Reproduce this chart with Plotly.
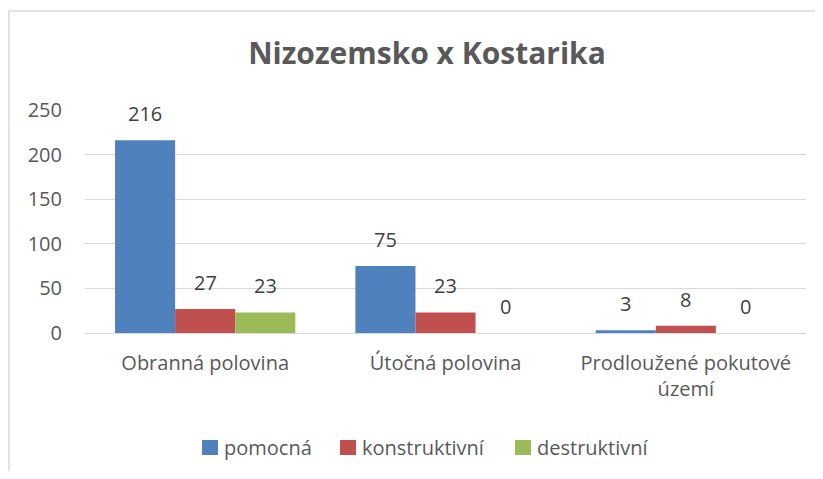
import plotly.graph_objects as go

categories = ["Obranná polovina", "Útočná polovina", "Prodloužené pokutové<br>území"]
series_names = ["pomocná", "konstruktivní", "destruktivní"]
pomocna = [216, 75, 3]
konstruktivni = [27, 23, 8]
destruktivni = [23, 0, 0]
colors = ["#4F81BD", "#C0504D", "#9BBB59"]
y_ticks = [0, 50, 100, 150, 200, 250]

FONT = "Open Sans"
TXT = "#595959"

# figure geometry (page has an 8px body margin; keep the page from scrolling)
W, H = 807, 463
L, R, T, B = 77, 9, 102, 138
PW, PH = W - L - R, H - T - B

def px_x(fx):
    return (fx - L) / PW

def px_y(fy):
    return (H - B - fy) / PH

fig = go.Figure()
all_series = [pomocna, konstruktivni, destruktivni]
for name, vals, col in zip(series_names, all_series, colors):
    fig.add_trace(go.Bar(
        x=categories, y=vals, name=name, marker_color=col, marker_line_width=0,
        showlegend=False, hoverinfo="x+y+name",
    ))

# data labels
group_w = PW / len(categories)
bar_w = group_w * 0.75 / len(series_names)
annotations = []
for i, vals in enumerate(all_series):
    for cat, v in zip(categories, vals):
        annotations.append(dict(
            x=cat, y=v, xref="x", yref="y", text=str(v), showarrow=False,
            xshift=(i - 1) * bar_w, yshift=11, yanchor="bottom", xanchor="center",
            font=dict(family=FONT, size=20, color="#404040"),
        ))

# custom legend (square + text)
shapes = []
sq_x = [194, 332, 507]
txt_x = [214, 352, 527]
for name, col, sx, tx in zip(series_names, colors, sq_x, txt_x):
    shapes.append(dict(type="rect", xref="paper", yref="paper",
                       x0=px_x(sx), x1=px_x(sx + 16), y0=px_y(447), y1=px_y(432),
                       fillcolor=col, line=dict(width=0)))
    annotations.append(dict(x=px_x(tx), y=px_y(439), xref="paper", yref="paper",
                            text=name, showarrow=False, xanchor="left", yanchor="middle",
                            font=dict(family=FONT, size=20, color=TXT)))

# chart border (only top and left edges are visible in the crop)
border = dict(color="#D9D9D9", width=1.5)
shapes.append(dict(type="line", xref="paper", yref="paper",
                   x0=px_x(1), x1=px_x(W), y0=px_y(3), y1=px_y(3), line=border, layer="below"))
shapes.append(dict(type="line", xref="paper", yref="paper",
                   x0=px_x(1), x1=px_x(1), y0=px_y(3), y1=px_y(H), line=border, layer="below"))

fig.update_layout(
    width=W, height=H,
    margin=dict(l=L, r=R, t=T, b=B),
    paper_bgcolor="white", plot_bgcolor="white",
    barmode="group", bargap=0.25, bargroupgap=0,
    title=dict(text="<b>Nizozemsko x Kostarika</b>", x=419 / W, xanchor="center",
               y=1 - 45 / H, yanchor="middle",
               font=dict(family=FONT, size=30, color=TXT)),
    font=dict(family=FONT, size=20, color=TXT),
    showlegend=False,
    annotations=annotations,
    shapes=shapes,
)
fig.update_yaxes(range=[0, 250], tickvals=y_ticks, showgrid=True, gridcolor="#D9D9D9",
                 gridwidth=1, zeroline=False, showline=False, ticks="",
                 ticklabelstandoff=22, tickfont=dict(family=FONT, size=20, color=TXT))
fig.update_xaxes(showline=True, linecolor="#D9D9D9", linewidth=1, ticks="",
                 ticklabelstandoff=12, tickfont=dict(family=FONT, size=20, color=TXT))

fig.write_html("out.html")
